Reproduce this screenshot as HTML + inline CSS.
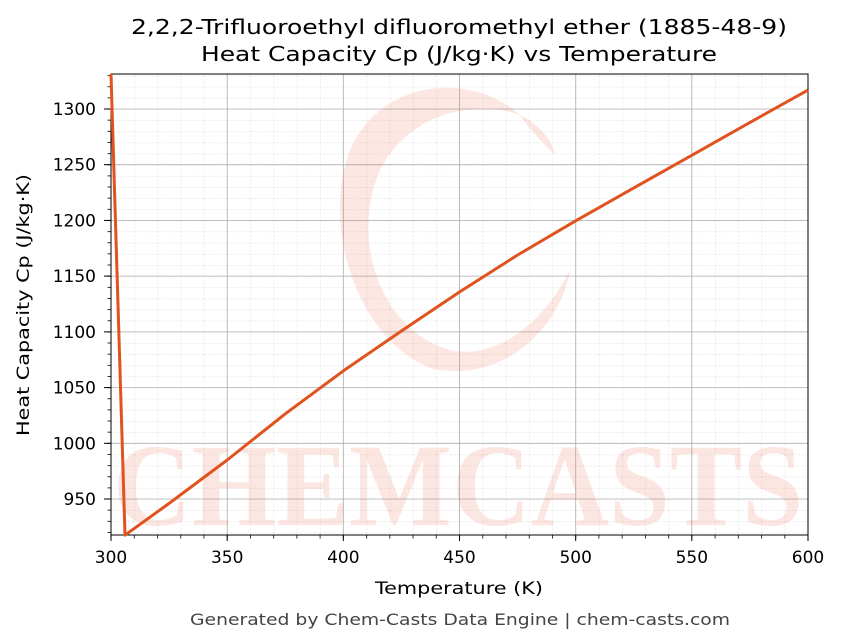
<!DOCTYPE html>
<html><head><meta charset="utf-8"><style>body{margin:0;background:#fff}svg{display:block}</style></head><body>
<svg width="843" height="644" xmlns="http://www.w3.org/2000/svg" font-family="DejaVu Sans, Liberation Sans, sans-serif">
<defs>
<pattern id="mg" patternUnits="userSpaceOnUse" x="111" y="109" width="23.2333" height="11.1429">
<line x1="0.3" y1="0" x2="0.3" y2="11.1429" stroke="#e2e2e2" stroke-width="0.6" stroke-dasharray="2,1.5"/>
<line x1="0" y1="0.3" x2="23.2333" y2="0.3" stroke="#e2e2e2" stroke-width="0.6" stroke-dasharray="2,1.5"/>
</pattern>
<pattern id="xt" patternUnits="userSpaceOnUse" x="110.6" y="0" width="23.2333" height="10">
<rect x="0" y="0" width="0.8" height="10" fill="#000"/>
</pattern>
<pattern id="yt" patternUnits="userSpaceOnUse" x="0" y="108.6" width="10" height="11.1429">
<rect x="0" y="0" width="10" height="0.8" fill="#000"/>
</pattern>
</defs>
<rect width="843" height="644" fill="#fff"/>
<rect x="111" y="74" width="697" height="461" fill="url(#mg)"/>
<g stroke="#b0b0b0" stroke-width="0.8">
<line x1="227.2" y1="74" x2="227.2" y2="535"/><line x1="343.3" y1="74" x2="343.3" y2="535"/><line x1="459.5" y1="74" x2="459.5" y2="535"/><line x1="575.7" y1="74" x2="575.7" y2="535"/><line x1="691.8" y1="74" x2="691.8" y2="535"/>
<line x1="111" y1="109" x2="808" y2="109"/><line x1="111" y1="164.7" x2="808" y2="164.7"/><line x1="111" y1="220.4" x2="808" y2="220.4"/><line x1="111" y1="276.1" x2="808" y2="276.1"/><line x1="111" y1="331.9" x2="808" y2="331.9"/><line x1="111" y1="387.6" x2="808" y2="387.6"/><line x1="111" y1="443.3" x2="808" y2="443.3"/><line x1="111" y1="499" x2="808" y2="499"/>
</g>
<g opacity="0.16" fill="#f26b50">
<path d="M520 115 C470 70 380 80 350 150 C320 230 360 340 430 368 C500 385 560 330 570 270 C540 330 490 360 450 350 C380 330 350 240 380 170 C410 110 480 100 520 115Z"/>
<path d="M520 115 C540 125 552 140 555 155 C540 140 530 130 520 115Z"/>
<text x="458" y="525" font-size="118" font-weight="bold" text-anchor="middle" textLength="690" lengthAdjust="spacingAndGlyphs" font-family="Liberation Serif, serif">CHEMCASTS</text>
</g>
<rect x="111" y="535" width="697.5" height="3.5" fill="url(#xt)"/>
<rect x="107.5" y="74" width="3.5" height="461" fill="url(#yt)"/>
<g stroke="#000" stroke-width="1">
<line x1="111" y1="535" x2="111" y2="541"/><line x1="227.2" y1="535" x2="227.2" y2="541"/><line x1="343.3" y1="535" x2="343.3" y2="541"/><line x1="459.5" y1="535" x2="459.5" y2="541"/><line x1="575.7" y1="535" x2="575.7" y2="541"/><line x1="691.8" y1="535" x2="691.8" y2="541"/><line x1="808" y1="535" x2="808" y2="541"/>
<line x1="104" y1="109" x2="111" y2="109"/><line x1="104" y1="164.7" x2="111" y2="164.7"/><line x1="104" y1="220.4" x2="111" y2="220.4"/><line x1="104" y1="276.1" x2="111" y2="276.1"/><line x1="104" y1="331.9" x2="111" y2="331.9"/><line x1="104" y1="387.6" x2="111" y2="387.6"/><line x1="104" y1="443.3" x2="111" y2="443.3"/><line x1="104" y1="499" x2="111" y2="499"/>
</g>
<rect x="111" y="74" width="697" height="461" fill="none" stroke="#000" stroke-width="1"/>
<polyline fill="none" stroke="#e0531f" stroke-width="3" stroke-linejoin="round" points="111,74 125,535.1 169.1,503.4 227.2,460 285.3,413.8 343.3,370.9 401.4,331 459.5,292 517.6,255 575.7,220.8 633.8,187.9 691.8,155.3 750,122.4 808,90.1"/>
<g font-size="17" fill="#000">
<text x="111" y="563" text-anchor="middle">300</text><text x="227.2" y="563" text-anchor="middle">350</text><text x="343.3" y="563" text-anchor="middle">400</text><text x="459.5" y="563" text-anchor="middle">450</text><text x="575.7" y="563" text-anchor="middle">500</text><text x="691.8" y="563" text-anchor="middle">550</text><text x="808" y="563" text-anchor="middle">600</text>
<g text-anchor="end">
<text x="96" y="115">1300</text><text x="96" y="170.7">1250</text><text x="96" y="226.4">1200</text><text x="96" y="282.1">1150</text><text x="96" y="337.9">1100</text><text x="96" y="393.6">1050</text><text x="96" y="449.3">1000</text><text x="96" y="505">950</text>
</g>
</g>
<text x="459" y="34" font-size="20" text-anchor="middle" textLength="656" lengthAdjust="spacingAndGlyphs">2,2,2-Trifluoroethyl difluoromethyl ether (1885-48-9)</text>
<text x="459" y="61" font-size="20" text-anchor="middle" textLength="516" lengthAdjust="spacingAndGlyphs">Heat Capacity Cp (J/kg·K) vs Temperature</text>
<text x="459" y="594" font-size="17" text-anchor="middle" textLength="168" lengthAdjust="spacingAndGlyphs">Temperature (K)</text>
<text x="29" y="305" font-size="17" text-anchor="middle" textLength="262" lengthAdjust="spacingAndGlyphs" transform="rotate(-90 29 305)">Heat Capacity Cp (J/kg·K)</text>
<text x="460" y="625" font-size="16" fill="#444" text-anchor="middle" textLength="540" lengthAdjust="spacingAndGlyphs">Generated by Chem-Casts Data Engine | chem-casts.com</text>
</svg>
</body></html>
